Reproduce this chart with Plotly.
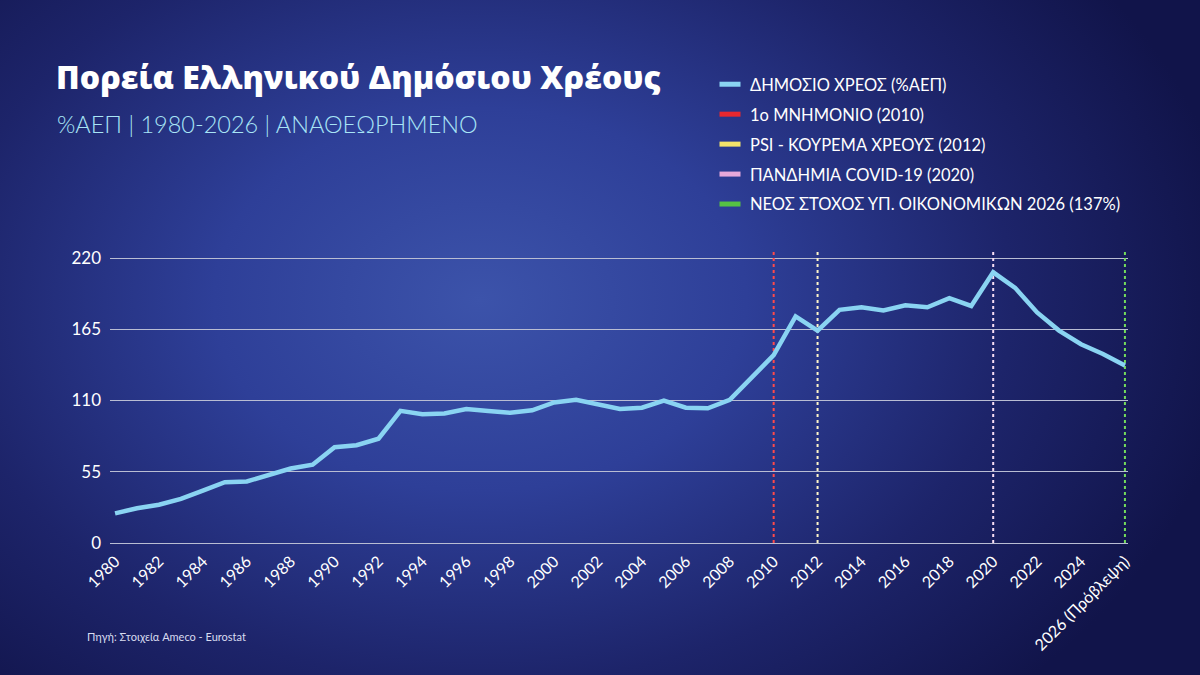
import base64

import plotly.graph_objects as go

# public debt, % of GDP
years = list(range(1980, 2027))
debt = [
    22.9, 26.8, 29.5, 34.0, 40.5, 47.0, 47.5, 52.5, 57.5, 60.5,
    74.0, 75.5, 80.5, 102.0, 99.5, 100.0, 103.5, 102.0, 100.5, 102.5,
    108.5, 110.5, 107.0, 103.5, 104.5, 110.0, 104.5, 104.0, 110.5, 128.0,
    145.0, 175.0, 164.0, 180.0, 182.0, 179.5, 183.5, 182.0, 189.0, 183.0,
    209.0, 197.0, 178.0, 164.0, 153.5, 146.0, 137.0,
]
debt_name = "ΔΗΜΟΣΙΟ ΧΡΕΟΣ (%ΑΕΠ)"

event_years = [2010, 2012, 2020, 2026]
event_names = [
    "1ο ΜΝΗΜΟΝΙΟ (2010)",
    "PSI - ΚΟΥΡΕΜΑ ΧΡΕΟΥΣ (2012)",
    "ΠΑΝΔΗΜΙΑ COVID-19 (2020)",
    "ΝΕΟΣ ΣΤΟΧΟΣ ΥΠ. ΟΙΚΟΝΟΜΙΚΩΝ 2026 (137%)",
]

y_ticks = [0, 55, 110, 165, 220]
x_ticks = list(range(1980, 2027, 2))
x_ticktext = [str(y) for y in x_ticks[:-1]] + ["2026 (Πρόβλεψη)"]

# styling
W, H = 1200, 675
ML, MR, MT, MB = 110, 72, 249, 132
PW, PH = W - ML - MR, H - MT - MB
LINE_COLOR = "#8ad4f2"
swatch_colors = ["#e8282f", "#f3e46a", "#e7a8da", "#56c144"]
vline_colors = ["#ff4a4a", "#fff6c8", "#f8def4", "#74dc5c"]
FONT = "Lato"


def px_x(x):
    return (x - ML) / PW


def px_y(y):
    return (H - MB - y) / PH


# background gradient as an svg image
svg = f"""<svg xmlns="http://www.w3.org/2000/svg" width="{W}" height="{H}">
<defs><radialGradient id="g" gradientUnits="userSpaceOnUse" cx="480" cy="300" r="760"
 gradientTransform="translate(480 300) scale(1 0.72) translate(-480 -300)">
<stop offset="0" stop-color="#3c53aa"/>
<stop offset="0.35" stop-color="#2e3f98"/>
<stop offset="0.7" stop-color="#1d246a"/>
<stop offset="1" stop-color="#11144a"/>
</radialGradient></defs>
<rect width="{W}" height="{H}" fill="url(#g)"/></svg>"""
bg_src = "data:image/svg+xml;base64," + base64.b64encode(svg.encode()).decode()

fig = go.Figure()

for yr, col in zip(event_years, vline_colors):
    fig.add_trace(go.Scatter(
        x=[yr, yr], y=[0, 227], mode="lines",
        line=dict(color=col, width=2, dash="dot"),
        showlegend=False, hoverinfo="skip",
    ))

fig.add_trace(go.Scatter(
    x=years, y=debt, mode="lines", name=debt_name,
    line=dict(color=LINE_COLOR, width=4.5), showlegend=False,
))

# legend entries with short solid swatches
legend_names = [debt_name] + event_names
legend_colors = [LINE_COLOR] + swatch_colors
for i, (nm, col) in enumerate(zip(legend_names, legend_colors)):
    fig.add_trace(go.Scatter(
        x=[None], y=[None], mode="markers", name=nm, legendgroup=str(i),
        marker=dict(symbol="line-ew", size=15, line=dict(color=col, width=5)),
    ))

fig.update_layout(
    width=W, height=H,
    margin=dict(l=ML, r=MR, t=MT, b=MB, autoexpand=False),
    paper_bgcolor="#171b58",
    plot_bgcolor="rgba(0,0,0,0)",
    font=dict(family=FONT, color="white"),
    title=dict(
        text="Πορεία Ελληνικού Δημόσιου Χρέους",
        font=dict(family="Open Sans", size=32, color="white", weight=800),
        x=56 / W, xanchor="left", xref="container",
        y=1 - 78 / H, yanchor="middle", yref="container",
    ),
    legend=dict(
        xref="container", yref="container",
        x=710 / W, xanchor="left", y=1 - 67 / H, yanchor="top",
        font=dict(family=FONT, size=16.5, color="white"),
        bgcolor="rgba(0,0,0,0)", traceorder="grouped", tracegroupgap=5.5,
        itemwidth=30,
    ),
    xaxis=dict(
        range=[1979.77, 2026.14], tickvals=x_ticks, ticktext=x_ticktext,
        tickangle=-45, tickfont=dict(size=16, color="white"),
        ticklabelstandoff=5,
        showgrid=False, zeroline=False, showline=False, ticks="",
    ),
    yaxis=dict(
        range=[0, 227], tickvals=y_ticks,
        tickfont=dict(size=17, color="white"), ticklabelstandoff=8,
        showgrid=True, gridcolor="#b9bdd3", gridwidth=1,
        zeroline=True, zerolinecolor="#b9bdd3", zerolinewidth=1,
        showline=False, ticks="",
    ),
    images=[dict(
        source=bg_src, xref="paper", yref="paper",
        x=px_x(0), y=px_y(0), sizex=W / PW, sizey=H / PH,
        xanchor="left", yanchor="top", sizing="stretch", layer="below",
    )],
    annotations=[
        dict(
            text="%ΑΕΠ | 1980-2026 | ΑΝΑΘΕΩΡΗΜΕΝΟ", showarrow=False,
            xref="paper", yref="paper", x=px_x(55), y=px_y(124),
            xanchor="left", yanchor="middle",
            font=dict(family=FONT, size=23.5, color="#a8e5f6", weight=300),
        ),
        dict(
            text="Πηγή: Στοιχεία Ameco - Eurostat", showarrow=False,
            xref="paper", yref="paper", x=px_x(85), y=px_y(636),
            xanchor="left", yanchor="middle",
            font=dict(family=FONT, size=11, color="#d8dcf0"),
        ),
    ],
)

fig.write_html(
    "out.html",
    config={"displayModeBar": False},
    post_script="document.body.style.margin='0';",
)
